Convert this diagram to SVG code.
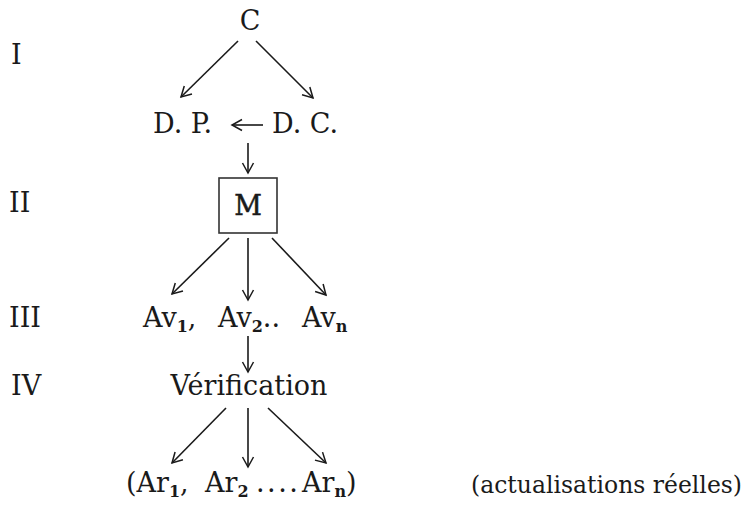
<svg xmlns="http://www.w3.org/2000/svg" width="748" height="506" viewBox="0 0 748 506" font-family="'DejaVu Serif', serif">
<style>
text{font-family:"DejaVu Serif",serif;font-size:27px;fill:#1a1a1a}
.sub{font-size:16px;font-weight:bold}
.edge{stroke:#1a1a1a;stroke-width:1.6;fill:none;marker-end:url(#ah)}
.box{fill:none;stroke:#333;stroke-width:1.6}
</style>
<defs>
<marker id="ah" viewBox="-12 -7 14 14" refX="0" refY="0" markerWidth="14" markerHeight="14" markerUnits="userSpaceOnUse" orient="auto">
<path d="M-10,-5.5 L0,0 L-10,5.5" fill="none" stroke="#1a1a1a" stroke-width="1.5"/>
</marker>
</defs>
<rect width="748" height="506" fill="#fff"/>
<g id="levels">
<text x="11" y="64">I</text>
<text x="9" y="212">II</text>
<text x="9" y="327">III</text>
<text x="11" y="395">IV</text>
</g>
<g id="node-C"><text x="250" y="30" text-anchor="middle">C</text></g>
<g id="node-DP"><text x="153" y="133">D. P.</text></g>
<g id="node-DC"><text x="272" y="133">D. C.</text></g>
<g id="node-M">
<rect class="box" x="219" y="178" width="58" height="55"/>
<text x="248" y="215" text-anchor="middle" style="stroke:#1a1a1a;stroke-width:0.5">M</text>
</g>
<g id="node-Av">
<text x="143" y="327">Av<tspan class="sub" dy="5">1</tspan><tspan dy="-5">,</tspan></text>
<text x="218" y="327">Av<tspan class="sub" dy="5">2</tspan><tspan dy="-5">..</tspan></text>
<text x="302" y="327">Av<tspan class="sub" dy="5">n</tspan></text>
</g>
<g id="node-Verif"><text x="249" y="395" text-anchor="middle">Vérification</text></g>
<g id="node-Ar">
<text x="126" y="492">(Ar<tspan class="sub" dy="5">1</tspan><tspan dy="-5">,</tspan></text>
<text x="205" y="492">Ar<tspan class="sub" dy="5">2</tspan></text>
<text x="256" y="492" letter-spacing="2.5">....</text>
<text x="302" y="492">Ar<tspan class="sub" dy="5">n</tspan><tspan dy="-5">)</tspan></text>
</g>
<g id="note"><text x="471" y="493" style="font-size:23.5px">(actualisations réelles)</text></g>
<g id="connectors">
<line class="edge" x1="238" y1="41" x2="181" y2="97"/>
<line class="edge" x1="256" y1="41" x2="313" y2="98"/>
<line class="edge" x1="263" y1="125" x2="232" y2="125"/>
<line class="edge" x1="248" y1="143" x2="248" y2="173"/>
<line class="edge" x1="229" y1="238" x2="172" y2="294"/>
<line class="edge" x1="248" y1="238" x2="248" y2="300"/>
<line class="edge" x1="272" y1="238" x2="326" y2="295"/>
<line class="edge" x1="248" y1="336" x2="248" y2="372"/>
<line class="edge" x1="226" y1="408" x2="172" y2="463"/>
<line class="edge" x1="248" y1="408" x2="248" y2="467"/>
<line class="edge" x1="268" y1="408" x2="326" y2="463"/>
</g>
</svg>
